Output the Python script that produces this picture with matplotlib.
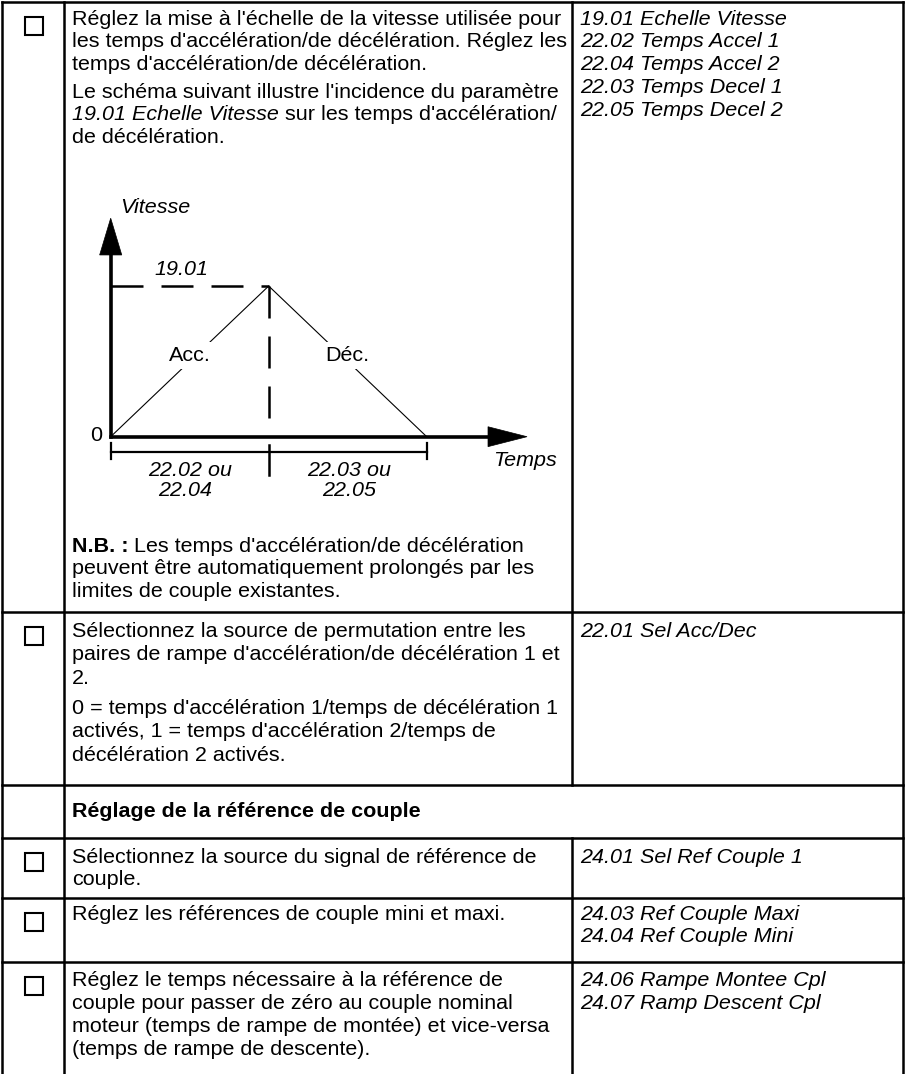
import matplotlib.pyplot as plt
from matplotlib.patches import Rectangle, Polygon

plt.rcParams['font.family'] = ['Liberation Sans', 'DejaVu Sans']

W, H = 905, 1074
LW = 1.8

# ---- content -------------------------------------------------------------
row1_intro = ["Réglez la mise à l'échelle de la vitesse utilisée pour",
              "les temps d'accélération/de décélération. Réglez les",
              "temps d'accélération/de décélération."]
row1_schema = ["Le schéma suivant illustre l'incidence du paramètre",
               None,
               "de décélération."]
row1_schema_mixed = [("19.01 Echelle Vitesse", 'italic', 'normal'),
                     ("sur les temps d'accélération/", 'normal', 'normal')]
row1_note = [None,
             "peuvent être automatiquement prolongés par les",
             "limites de couple existantes."]
row1_note_mixed = [("N.B. :", 'normal', 'bold'),
                   ("Les temps d'accélération/de décélération", 'normal', 'normal')]
row1_params = ["19.01 Echelle Vitesse", "22.02 Temps Accel 1", "22.04 Temps Accel 2",
               "22.03 Temps Decel 1", "22.05 Temps Decel 2"]

row2_text = ["Sélectionnez la source de permutation entre les",
             "paires de rampe d'accélération/de décélération 1 et",
             "2."]
row2_text_b = ["0 = temps d'accélération 1/temps de décélération 1",
               "activés, 1 = temps d'accélération 2/temps de",
               "décélération 2 activés."]
row2_params = ["22.01 Sel Acc/Dec"]

section_title = "Réglage de la référence de couple"

row4_text = ["Sélectionnez la source du signal de référence de", "couple."]
row4_params = ["24.01 Sel Ref Couple 1"]
row5_text = ["Réglez les références de couple mini et maxi."]
row5_params = ["24.03 Ref Couple Maxi", "24.04 Ref Couple Mini"]
row6_text = ["Réglez le temps nécessaire à la référence de",
             "couple pour passer de zéro au couple nominal",
             "moteur (temps de rampe de montée) et vice-versa",
             "(temps de rampe de descente)."]
row6_params = ["24.06 Rampe Montee Cpl", "24.07 Ramp Descent Cpl"]

# ramp diagram: time (in ramp units) vs speed (fraction of 19.01)
ramp_t = [0, 1, 2]
ramp_v = [0, 1, 0]

# ---- figure / table -----------------------------------------------------
fig = plt.figure(figsize=(W / 100, H / 100), dpi=100)
ax = fig.add_axes([0, 0, 1, 1])
ax.set_xlim(0, W); ax.set_ylim(H, 0); ax.axis('off')
renderer = fig.canvas.get_renderer()

# size the body font so the first line spans the same width as in the page
probe = ax.text(0, 0, row1_intro[0], fontsize=13.6)
FS = 13.6 * 486 / probe.get_window_extent(renderer).width
probe.remove()
FPX = FS / 0.72
SPACE = 0.278 * FPX
BASE = 0.36 * FPX

XL, XC1, XC2, XR = 2, 63.5, 571.5, 903
TX, PX = 72, 580
seps = [612, 785, 838, 898, 962]

ax.plot([XL, XR], [2, 2], color='k', lw=LW, solid_capstyle='projecting')
for y in seps:
    ax.plot([XL, XR], [y, y], color='k', lw=LW)
for x in (XL, XC1, XR):
    ax.plot([x, x], [2, H], color='k', lw=LW, solid_capstyle='projecting')
ax.plot([XC2, XC2], [2, seps[1]], color='k', lw=LW)
ax.plot([XC2, XC2], [seps[2], H], color='k', lw=LW)

for top in [2, 612, 838, 898, 962]:
    ax.add_patch(Rectangle((25, top + 15), 18, 18, fill=False, ec='k', lw=1.5))


def line(x, yc, s, style='normal', weight='normal'):
    ax.text(x, yc + BASE, s, fontsize=FS, style=style, weight=weight,
            va='baseline', ha='left', color='black')


def mixed(x, yc, parts):
    for s, style, weight in parts:
        t = ax.text(x, yc + BASE, s, fontsize=FS, style=style, weight=weight,
                    va='baseline', ha='left', color='black')
        x += t.get_window_extent(renderer).width + SPACE


def block(x, y0, lines, step=22.7, style='normal'):
    for i, s in enumerate(lines):
        if s is not None:
            line(x, y0 + i * step, s, style=style)


block(TX, 17, row1_intro)
block(TX, 90, row1_schema)
mixed(TX, 112.7, row1_schema_mixed)
block(TX, 544, row1_note)
mixed(TX, 544, row1_note_mixed)
block(PX, 17, row1_params, style='italic')

block(TX, 629, row2_text, step=23.5)
block(TX, 706, row2_text_b, step=23.5)
block(PX, 629, row2_params, style='italic')

line(TX, 809, section_title, weight='bold')

block(TX, 855, row4_text)
block(PX, 855, row4_params, style='italic')
block(TX, 912, row5_text)
block(PX, 912, row5_params, style='italic')
block(TX, 978, row6_text, step=23)
block(PX, 978, row6_params, style='italic', step=23)

# ---- ramp diagram -------------------------------------------------------
dl, dr, dt, db = 75, 570, 195, 505
X0, Y0, SX, SY = 110.7, 436.7, 158.0, 150.7
ax2 = fig.add_axes([dl / W, 1 - db / H, (dr - dl) / W, (db - dt) / H])
ax2.set_xlim((dl - X0) / SX, (dr - X0) / SX)
ax2.set_ylim((Y0 - db) / SY, (Y0 - dt) / SY)
ax2.axis('off')

# axes with arrow heads
ax2.plot([0, 0], [0, 1.21], color='k', lw=2.6, solid_capstyle='projecting')
ax2.plot([0, 2.39], [0, 0], color='k', lw=2.6, solid_capstyle='projecting')
ax2.add_patch(Polygon([(-0.07, 1.206), (0.07, 1.206), (0, 1.45)], closed=True, fc='k', ec='k', lw=0.5))
ax2.add_patch(Polygon([(2.388, 0.066), (2.388, -0.066), (2.635, 0)], closed=True, fc='k', ec='k', lw=0.5))

# ramp profile
ax2.plot(ramp_t, ramp_v, color='k', lw=0.8)
peak = ramp_t[ramp_v.index(max(ramp_v))]
ax2.plot([ramp_t[0], peak], [max(ramp_v)] * 2, color='k', lw=1.8, dashes=(12.8, 7.2))
ax2.plot([peak, peak], [max(ramp_v), 0], color='k', lw=1.8, dashes=(12.8, 7.2))

# time dimension line
ax2.plot([ramp_t[0], ramp_t[-1]], [-0.1, -0.1], color='k', lw=1.6)
for t in ramp_t:
    if t == peak:
        ax2.plot([t, t], [-0.055, -0.254], color='k', lw=1.8)
    else:
        ax2.plot([t, t], [-0.04, -0.15], color='k', lw=1.6)

kw = dict(fontsize=FS, ha='center', va='center', color='black')
ax2.text(0.5, 0.54, 'Acc.', bbox=dict(fc='white', ec='none', pad=3), **kw)
ax2.text(1.5, 0.54, 'Déc.', bbox=dict(fc='white', ec='none', pad=3), **kw)
ax2.text(0.06, 1.518, 'Vitesse', style='italic', fontsize=FS, ha='left', va='center')
ax2.text(0.45, 1.11, '19.01', style='italic', **kw)
ax2.text(-0.093, 0.01, '0', **kw)
ax2.text(2.62, -0.155, 'Temps', style='italic', **kw)
ax2.text(0.50, -0.221, '22.02 ou', style='italic', **kw)
ax2.text(0.47, -0.354, '22.04', style='italic', **kw)
ax2.text(1.51, -0.221, '22.03 ou', style='italic', **kw)
ax2.text(1.51, -0.354, '22.05', style='italic', **kw)

fig.savefig('out.png', dpi=100)
